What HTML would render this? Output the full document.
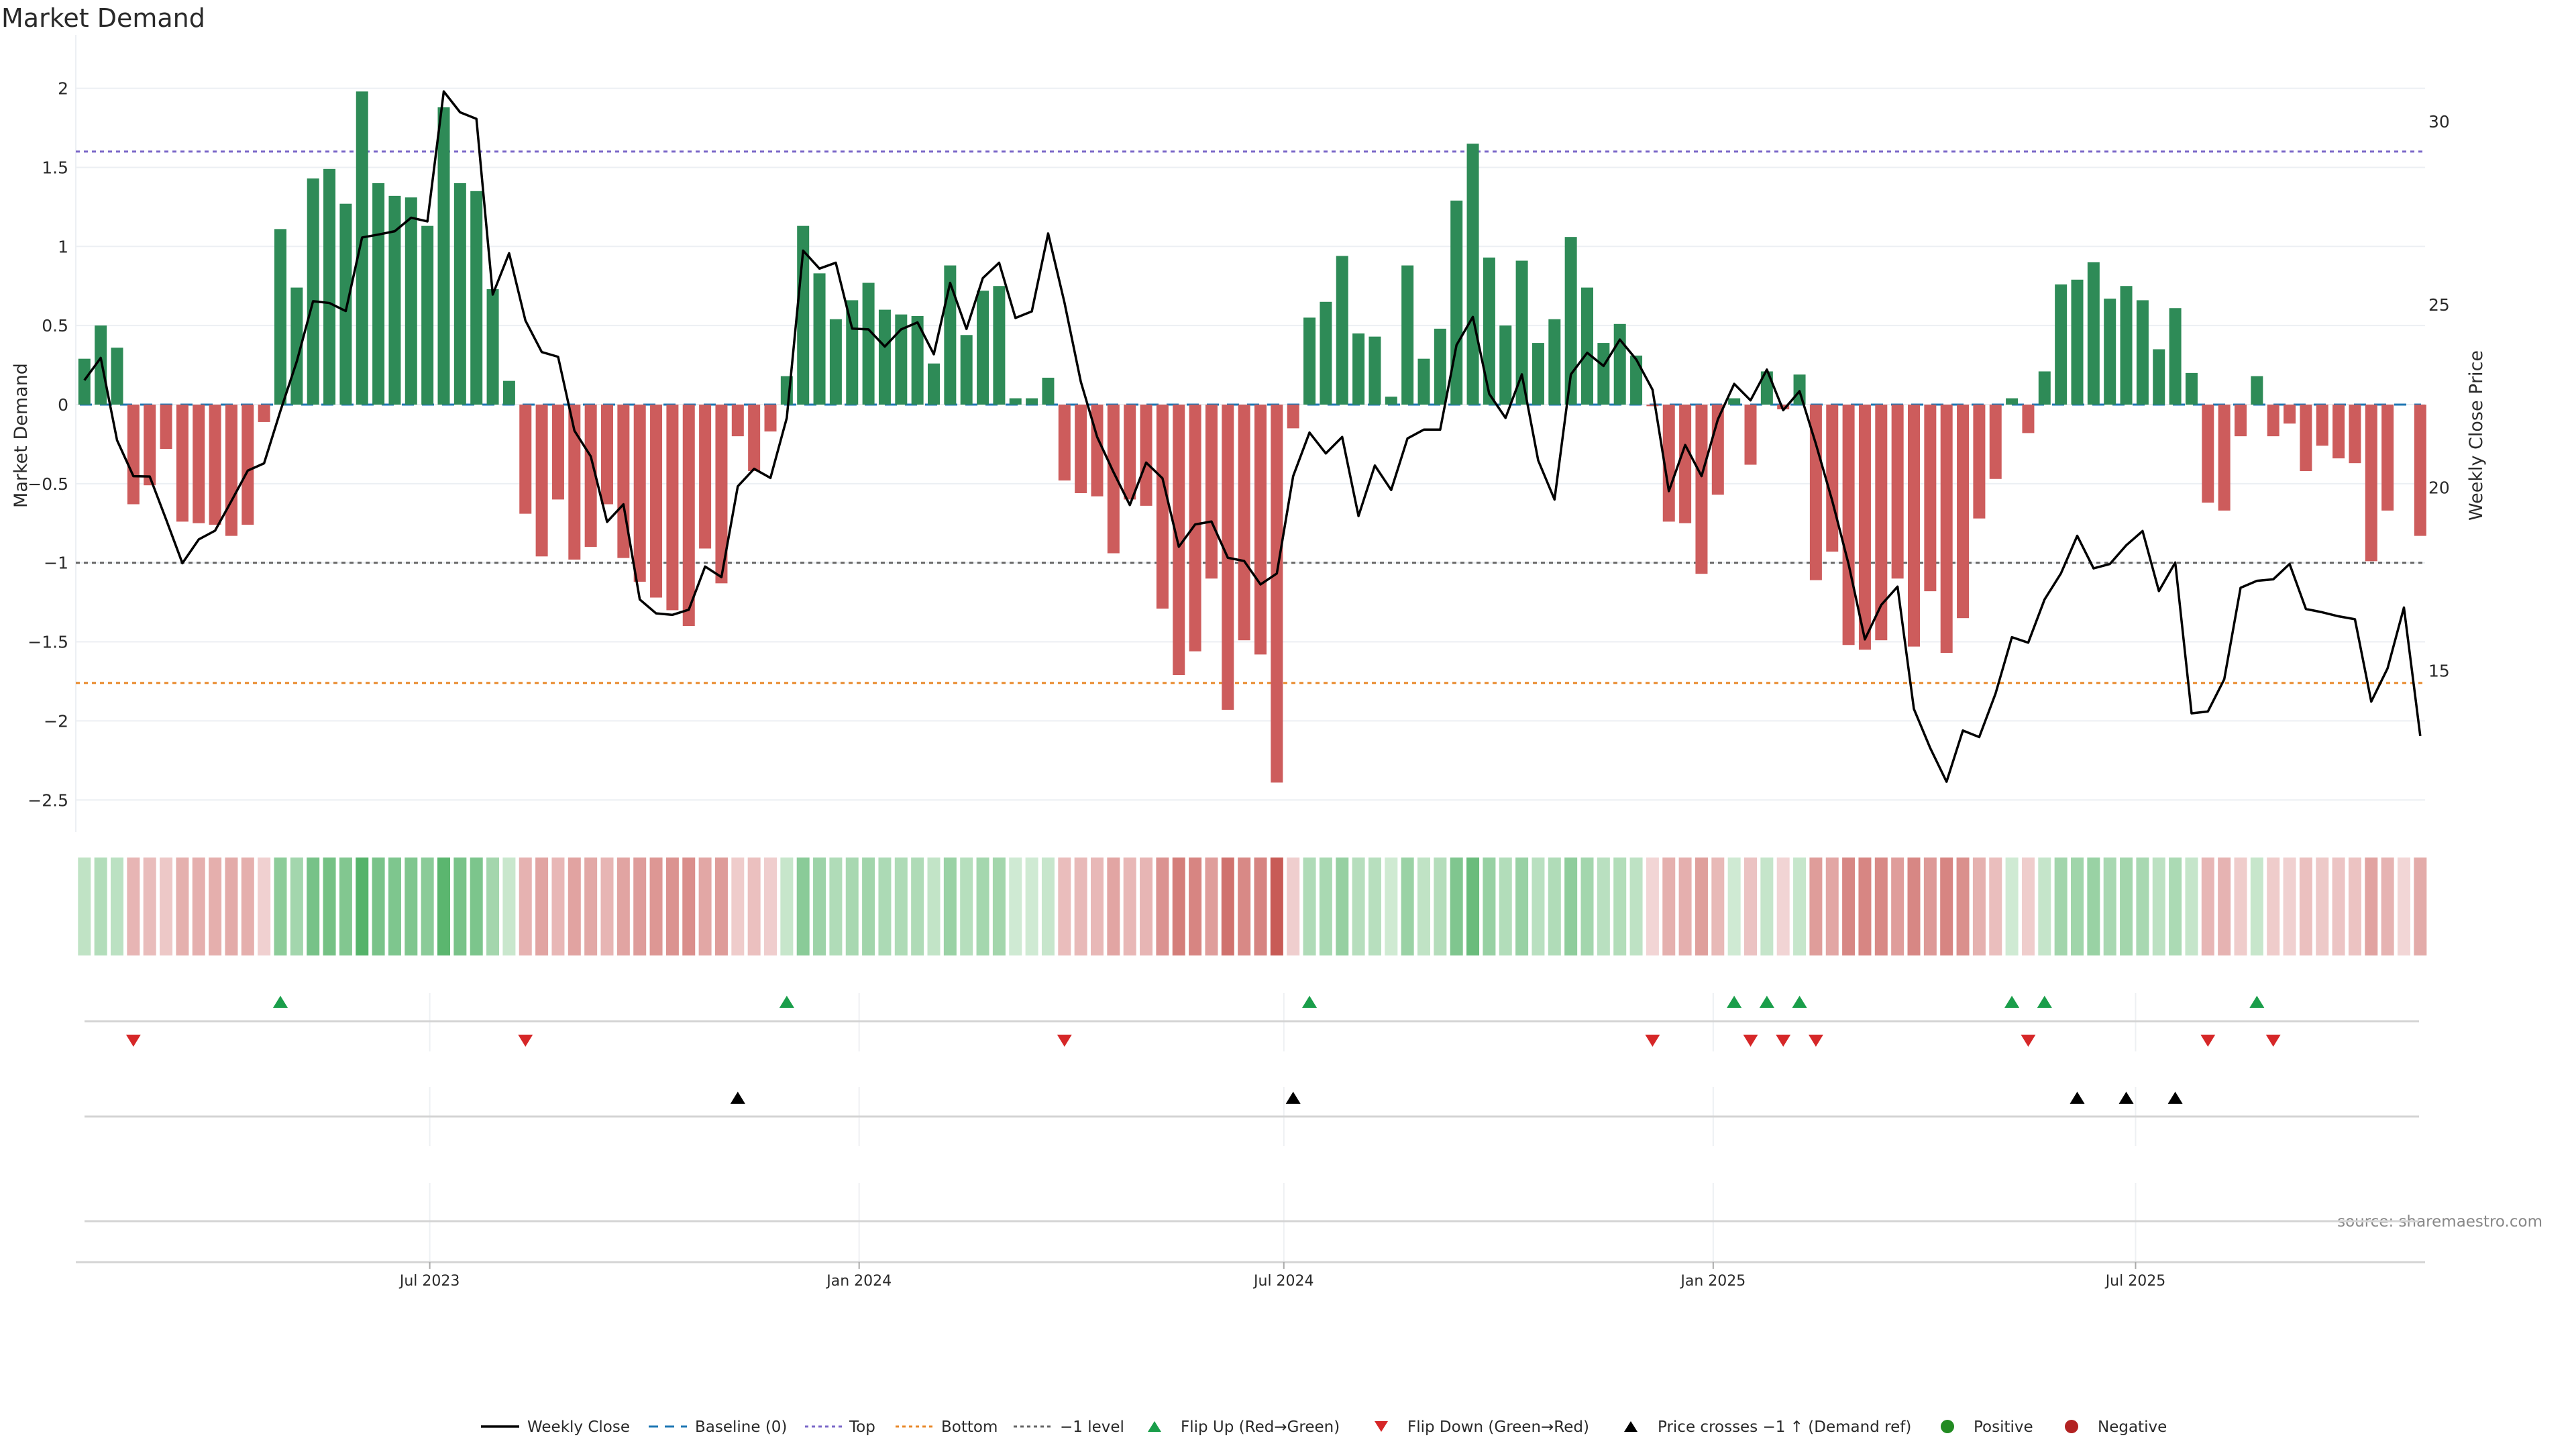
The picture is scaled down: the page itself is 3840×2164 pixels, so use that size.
<!DOCTYPE html>
<html><head><meta charset="utf-8"><title>Market Demand</title>
<style>
html,body{margin:0;padding:0;background:#fff;}
body{width:3840px;height:2160px;overflow:hidden;font-family:"DejaVu Sans","Liberation Sans",sans-serif;}
svg text{font-family:"DejaVu Sans","Liberation Sans",sans-serif;}
</style></head>
<body>
<svg id="chart" width="3840" height="2160" viewBox="0 0 3840 2160" xmlns="http://www.w3.org/2000/svg">
<text x="2" y="40" font-size="38" fill="#2a2a2a">Market Demand</text>
<text transform="translate(40,649) rotate(-90)" text-anchor="middle" font-size="27" fill="#2a2a2a">Market Demand</text>
<text transform="translate(3700,649) rotate(-90)" text-anchor="middle" font-size="27" fill="#2a2a2a">Weekly Close Price</text>
<text x="3790" y="1828" text-anchor="end" font-size="23" fill="#888">source: sharemaestro.com</text>
<g id="grid"></g><g id="refs"></g><g id="bars"></g><g id="price"></g><g id="strip"></g><g id="panels"></g><g id="axes"></g><g id="legend"></g>
</svg>
<script>
const demand = [0.29,0.50,0.36,-0.63,-0.51,-0.28,-0.74,-0.75,-0.76,-0.83,-0.76,-0.11,1.11,0.74,1.43,1.49,1.27,1.98,1.40,1.32,1.31,1.13,1.88,1.40,1.35,0.73,0.15,-0.69,-0.96,-0.60,-0.98,-0.90,-0.63,-0.97,-1.12,-1.22,-1.30,-1.40,-0.91,-1.13,-0.20,-0.42,-0.17,0.18,1.13,0.83,0.54,0.66,0.77,0.60,0.57,0.56,0.26,0.88,0.44,0.72,0.75,0.04,0.04,0.17,-0.48,-0.56,-0.58,-0.94,-0.60,-0.64,-1.29,-1.71,-1.56,-1.10,-1.93,-1.49,-1.58,-2.39,-0.15,0.55,0.65,0.94,0.45,0.43,0.05,0.88,0.29,0.48,1.29,1.65,0.93,0.50,0.91,0.39,0.54,1.06,0.74,0.39,0.51,0.31,-0.01,-0.74,-0.75,-1.07,-0.57,0.04,-0.38,0.21,-0.03,0.19,-1.11,-0.93,-1.52,-1.55,-1.49,-1.10,-1.53,-1.18,-1.57,-1.35,-0.72,-0.47,0.04,-0.18,0.21,0.76,0.79,0.90,0.67,0.75,0.66,0.35,0.61,0.20,-0.62,-0.67,-0.20,0.18,-0.20,-0.12,-0.42,-0.26,-0.34,-0.37,-0.99,-0.67,0,-0.83];
const closePrice = [22.93,23.54,21.29,20.31,20.30,19.13,17.93,18.58,18.82,19.63,20.46,20.66,22.09,23.44,25.09,25.04,24.82,26.83,26.91,27.00,27.37,27.27,30.82,30.25,30.07,25.27,26.40,24.56,23.70,23.57,21.55,20.85,19.06,19.54,16.94,16.56,16.52,16.66,17.84,17.55,20.03,20.51,20.26,21.90,26.47,25.98,26.14,24.34,24.32,23.85,24.32,24.51,23.64,25.59,24.33,25.72,26.14,24.63,24.81,26.94,25.05,22.89,21.38,20.42,19.52,20.68,20.25,18.38,18.99,19.07,18.08,17.99,17.35,17.65,20.31,21.50,20.93,21.38,19.22,20.60,19.93,21.34,21.58,21.58,23.89,24.66,22.56,21.90,23.09,20.74,19.67,23.09,23.68,23.32,24.04,23.50,22.67,19.90,21.16,20.31,21.86,22.83,22.38,23.22,22.11,22.63,21.19,19.64,17.91,15.85,16.79,17.29,13.95,12.88,11.96,13.36,13.18,14.37,15.91,15.76,16.94,17.65,18.68,17.79,17.91,18.42,18.81,17.17,17.95,13.83,13.88,14.76,17.26,17.45,17.49,17.91,16.68,16.59,16.48,16.40,14.15,15.06,16.72,13.21];
const priceCrossIdx = [40,74,122,125,128];
const leftTicks = [2,1.5,1,0.5,0,-0.5,-1,-1.5,-2,-2.5];
const rightTicks = [30,25,20,15];
const topLevel = 1.6, bottomLevel = -1.76, minusOneLevel = -1;
const dateTicks = ["2023-07-01","2024-01-01","2024-07-01","2025-01-01","2025-07-01"];
const dateTickLabels = ["Jul 2023","Jan 2024","Jul 2024","Jan 2025","Jul 2025"];
const startDate = "2023-02-03";

const NS="http://www.w3.org/2000/svg";
const X0=125.8, STEP=24.35, PL=113, PR=3615;
function xi(i){return X0+STEP*i;}
function xDate(s){const d=(Date.parse(s)-Date.parse(startDate))/86400000;return X0+STEP*d/7;}
function yL(v){return 603-235.7*v;}
function yR(p){return 181+(30-p)*54.55;}
function mk(tag,attrs,parent){const e=document.createElementNS(NS,tag);for(const k in attrs)e.setAttribute(k,attrs[k]);document.getElementById(parent).appendChild(e);return e;}
function fmt(v){return v<0?"\u2212"+String(-v):String(v);}

// grid + left ticks
leftTicks.forEach(v=>{
  const l=mk("line",{x1:PL,x2:PR,y1:yL(v),y2:yL(v),stroke:"#eceff3","stroke-width":2},"grid");
  
  
  const t=mk("text",{x:102,y:yL(v)+9,"text-anchor":"end","font-size":25,fill:"#2a2a2a"},"grid");
  t.textContent=fmt(v);
  
  
});
const fl=mk("line",{x1:PL,x2:PL,y1:52,y2:1240,stroke:"#eceff3","stroke-width":2},"grid");


rightTicks.forEach(p=>{
  const t=mk("text",{x:3620,y:yR(p)+9,"font-size":25,fill:"#2a2a2a"},"grid");
  t.textContent=String(p);
  
  
});
// reference lines
[[topLevel,"#7b68c8","6,6","top-line"],[minusOneLevel,"#666","6,6","minus-one-line"],[bottomLevel,"#e8892b","6,6","bottom-line"]].forEach(r=>{
  const l=mk("line",{x1:PL,x2:PR,y1:yL(r[0]),y2:yL(r[0]),stroke:r[1],"stroke-width":3,"stroke-dasharray":r[2]},"refs");
  
  
});
// bars
demand.forEach((v,i)=>{
  const y0=yL(0),y1=yL(v);
  const b=mk("rect",{x:xi(i)-9,y:Math.min(y0,y1),width:18,height:Math.max(Math.abs(y1-y0),0.01),fill:v>=0?"#2e8b57":"#cd5c5c"},"bars");
  
  
});
const bl=mk("line",{x1:PL+6,x2:PR-6,y1:yL(0),y2:yL(0),stroke:"#1f77b4","stroke-width":3,"stroke-dasharray":"18,12"},"refs");


// price line
const pl=mk("polyline",{points:closePrice.map((p,i)=>xi(i)+","+yR(p)).join(" "),fill:"none",stroke:"#000","stroke-width":3.5,"stroke-linejoin":"round"},"price");


// heat strip
function mix(a,b,t){return "rgb("+a.map((c,k)=>Math.round(c+(b[k]-c)*t)).join(",")+")";}
demand.forEach((v,i)=>{
  const t=Math.min(Math.abs(v)/2.4,1);
  const c=v>0?mix([210,235,213],[58,167,83],t):mix([242,214,214],[200,90,85],t);
  const r=mk("rect",{x:xi(i)-9.5,y:1278,width:19,height:146,fill:c},"strip");
  
  
});
// panels
[[1480,1567],[1620,1708],[1763,1882]].forEach(p=>{
  dateTicks.forEach(d=>{
    const g=mk("line",{x1:xDate(d),x2:xDate(d),y1:p[0],y2:p[1],stroke:"#eef0f3","stroke-width":2},"panels");
    
    
  });
});
[1522,1664,1820].forEach(y=>{
  const l=mk("line",{x1:126,x2:3606,y1:y,y2:y,stroke:"#d4d4d4","stroke-width":3},"panels");
  
  
});
function tri(x,y,up,color,name){
  const h=9,w=11;
  const pts=up?[[x,y-h],[x-w,y+h],[x+w,y+h]]:[[x,y+h],[x-w,y-h],[x+w,y-h]];
  const t=mk("polygon",{points:pts.map(p=>p.join(",")).join(" "),fill:color},"panels");
  
  
}
for(let i=1;i<demand.length;i++){
  if(demand[i-1]<0&&demand[i]>0) tri(xi(i),1493,true,"#1a9e4a","flip-up-marker");
  if(demand[i-1]>0&&demand[i]<0) tri(xi(i),1551,false,"#d62728","flip-down-marker");
}
priceCrossIdx.forEach(i=>tri(xi(i),1636,true,"#000","price-cross-marker"));
// x axis
const ax=mk("line",{x1:PL,x2:PR,y1:1881,y2:1881,stroke:"#d4d4d4","stroke-width":3},"axes");


dateTicks.forEach((d,k)=>{
  const tk=mk("line",{x1:xDate(d),x2:xDate(d),y1:1881,y2:1891,stroke:"#aaa","stroke-width":2},"axes");
  
  
  const t=mk("text",{x:xDate(d),y:1916,"text-anchor":"middle","font-size":22,fill:"#2a2a2a"},"axes");
  t.textContent=dateTickLabels[k];
  
  
});
// legend
const LY=2126;
function ltext(x,s,name){const t=mk("text",{x:x,y:LY+8,"font-size":23,fill:"#2a2a2a"},"legend");t.textContent=s;}
function lline(x1,x2,color,dash,w,name){const l=mk("line",{x1:x1,x2:x2,y1:LY,y2:LY,stroke:color,"stroke-width":w,"stroke-dasharray":dash},"legend");}
lline(717,774,"#000","none",3.5,"legend-weekly-close-swatch");ltext(786,"Weekly Close","legend-weekly-close");
lline(967,1024,"#1f77b4","14,10",3,"legend-baseline-swatch");ltext(1036,"Baseline (0)","legend-baseline");
lline(1200,1256,"#7b68c8","5,5",3,"legend-top-swatch");ltext(1266,"Top","legend-top");
lline(1335,1392,"#e8892b","5,5",3,"legend-bottom-swatch");ltext(1403,"Bottom","legend-bottom");
lline(1511,1568,"#666","5,5",3,"legend-minus-one-swatch");ltext(1580,"\u22121 level","legend-minus-one");
function ltri(x,up,color,name){const h=8,w=10;const pts=up?[[x,LY-h],[x-w,LY+h],[x+w,LY+h]]:[[x,LY+h],[x-w,LY-h],[x+w,LY-h]];const t=mk("polygon",{points:pts.map(p=>p.join(",")).join(" "),fill:color},"legend");}
ltri(1721,true,"#1a9e4a","legend-flip-up-swatch");ltext(1760,"Flip Up (Red\u2192Green)","legend-flip-up");
ltri(2059,false,"#d62728","legend-flip-down-swatch");ltext(2098,"Flip Down (Green\u2192Red)","legend-flip-down");
ltri(2431,true,"#000","legend-price-cross-swatch");ltext(2471,"Price crosses \u22121 \u2191 (Demand ref)","legend-price-cross");
const c1=mk("circle",{cx:2903,cy:LY,r:10,fill:"#228b22"},"legend");
ltext(2942,"Positive","legend-positive");
const c2=mk("circle",{cx:3088,cy:LY,r:10,fill:"#b22222"},"legend");
ltext(3127,"Negative","legend-negative");
</script>
</body></html>
